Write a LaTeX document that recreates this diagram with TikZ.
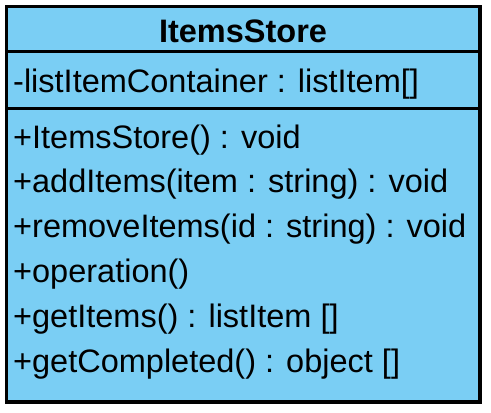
\documentclass[tikz,border=0pt]{standalone}
\usepackage{fontspec}
\setmainfont{Liberation Sans}
\usepackage{tikz}
\usetikzlibrary{positioning, calc}

\definecolor{classblue}{RGB}{122,206,244}

\begin{document}
\begin{tikzpicture}[
        x=1pt, y=1pt,
        frame/.style={draw=black, line width=3.5pt, fill=classblue},
        divider/.style={draw=black, line width=3.5pt},
        classname/.style={anchor=base, inner sep=0pt, font=\fontsize{32.5}{38}\selectfont\bfseries},
        member/.style={anchor=base west, inner sep=0pt, font=\fontsize{32.5}{38}\selectfont}
    ]
        \useasboundingbox (0,0) rectangle (491,-413);

        % Class frame
        \coordinate (nw) at (6.5,-6.5);
        \coordinate (se) at (480,-402);
        \coordinate (d1w) at (6.5,-51.5);
        \coordinate (d1e) at (480,-51.5);
        \coordinate (d2w) at (6.5,-108.5);
        \coordinate (d2e) at (480,-108.5);
        \draw[frame] (nw) rectangle (se);
        \draw[divider] (d1w) -- (d1e);
        \draw[divider] (d2w) -- (d2e);

        % Name
        \node[classname] (name) at (243,-42) {ItemsStore};

        % Attributes
        \node[member] (attr) at (13,-92) {-listItemContainer : listItem[]};

        % Operations
        \node[member] (ctor) at (13,-148) {+ItemsStore() : void};
        \node[member] (add) at (13,-192.5) {+addItems(item : string) : void};
        \node[member] (remove) at (13,-237) {+removeItems(id : string) : void};
        \node[member] (oper) at (13,-282) {+operation()};
        \node[member] (get) at (13,-327) {+getItems() : listItem []};
        \node[member] (done) at (13,-372) {+getCompleted() : object []};
    \end{tikzpicture}
\end{document}
